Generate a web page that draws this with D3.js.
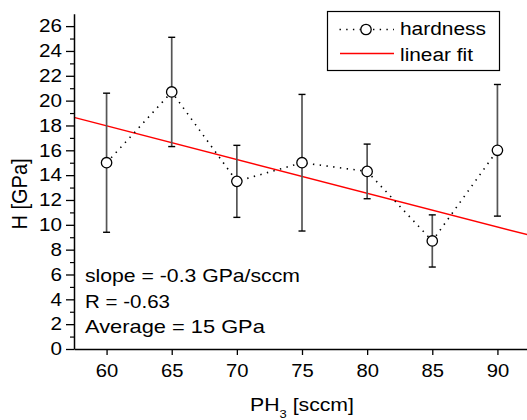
<!DOCTYPE html>
<html><head><meta charset="utf-8">
<script src="https://cdn.jsdelivr.net/npm/d3@7"></script>
<style>body{margin:0;background:#fff}svg{display:block;font-family:"Liberation Sans",Arial,sans-serif}</style>
</head><body>
<svg id="c" width="527" height="420"></svg>
<script>
const xValues = [60, 65, 70, 75, 80, 85, 90];
const hardness = [15.0, 20.7, 13.5, 15.0, 14.3, 8.7, 16.0];
const errLow = [9.4, 16.3, 10.6, 9.5, 12.1, 6.6, 10.7];
const errHigh = [20.6, 25.1, 16.4, 20.5, 16.5, 10.8, 21.3];
const fitX = [57.5, 92.5];
const fitY = [18.65, 9.15];
const xTicks = [60, 65, 70, 75, 80, 85, 90];
const yTicks = [0, 2, 4, 6, 8, 10, 12, 14, 16, 18, 20, 22, 24, 26];
const notes = ["slope = -0.3 GPa/sccm", "R = -0.63", "Average = 15 GPa"];
const legendLabels = ["hardness", "linear fit"];

const FS = 18;
const svg = d3.select("#c");
const x = d3.scaleLinear().domain([57.5, 92.5]).range([74, 530]);
const y = d3.scaleLinear().domain([0, 27]).range([349, 13.7]);

// horizontal stretch so text width matches the reference
function fitWidth(node, tx, ty, target, extra) {
  const w = node.getComputedTextLength();
  const s = target / w;
  d3.select(node).attr("transform", `translate(${tx},${ty}) scale(${s},1)` + (extra || ""));
  return s;
}
function addText(g, txt, size) {
  return g.append("text").attr("font-size", size || FS).attr("fill", "#000").text(txt);
}

// fit line
svg.append("line")
  .attr("x1", x(fitX[0])).attr("y1", y(fitY[0]))
  .attr("x2", x(fitX[1])).attr("y2", y(fitY[1]))
  .attr("stroke", "#ff0000").attr("stroke-width", 1.5);

// dotted connecting line
const pts = xValues.map((v, i) => [v, hardness[i]]);
svg.append("path")
  .attr("d", d3.line().x(d => x(d[0])).y(d => y(d[1]))(pts))
  .attr("fill", "none").attr("stroke", "#000").attr("stroke-width", 1.6)
  .attr("stroke-dasharray", "1.4,5.4");

// error bars
const eb = svg.append("g");
xValues.forEach((v, i) => {
  eb.append("line").attr("x1", x(v)).attr("x2", x(v)).attr("y1", y(errLow[i])).attr("y2", y(errHigh[i]))
    .attr("stroke", "#555").attr("stroke-width", 1.7);
  [errLow[i], errHigh[i]].forEach(e => {
    eb.append("line").attr("x1", x(v) - 3.5).attr("x2", x(v) + 3.5).attr("y1", y(e)).attr("y2", y(e))
      .attr("stroke", "#000").attr("stroke-width", 1.4);
  });
});

// markers
svg.append("g").selectAll("circle").data(pts).join("circle")
  .attr("cx", d => x(d[0])).attr("cy", d => y(d[1])).attr("r", 5.2)
  .attr("fill", "#fff").attr("stroke", "#000").attr("stroke-width", 1.3);

// x axis
const xAxis = d3.axisBottom(x).tickValues(xTicks).tickSize(6).tickSizeOuter(0);
const gx = svg.append("g").attr("transform", "translate(0,349)").call(xAxis);
gx.select(".domain").attr("stroke-width", 1.5);
gx.selectAll(".tick line").attr("stroke-width", 1.3);
gx.selectAll("text").attr("font-size", FS).attr("fill", "#000")
  .attr("font-family", "Liberation Sans, Arial, sans-serif")
  .attr("y", null).attr("dy", null)
  .each(function () { fitWidth(this, 0, 28, 22.5); });

// y axis
const minorY = d3.range(1, 27, 2);
svg.append("g").attr("transform", "translate(74,0)")
  .call(d3.axisLeft(y).tickValues(minorY).tickSize(4).tickFormat("").tickSizeOuter(0))
  .call(g => g.select(".domain").remove())
  .selectAll(".tick line").attr("stroke-width", 1.2);
const gy = svg.append("g").attr("transform", "translate(74,0)")
  .call(d3.axisLeft(y).tickValues(yTicks).tickSize(8).tickSizeOuter(0));
gy.select(".domain").attr("stroke-width", 1.5);
gy.selectAll(".tick line").attr("stroke-width", 1.3);
gy.selectAll("text").attr("font-size", FS).attr("fill", "#000")
  .attr("font-family", "Liberation Sans, Arial, sans-serif")
  .attr("x", null)
  .each(function () { const n = this.textContent.length; fitWidth(this, -12, 0, 11.5 * n); });

// axis titles
const yt = addText(svg, "H [GPa]", 20).attr("text-anchor", "middle")
  .attr("transform", "translate(26.5,194) scale(1.1,1) rotate(-90)");
const xt = svg.append("text").attr("text-anchor", "middle").attr("font-size", FS).attr("fill", "#000");
xt.append("tspan").text("PH");
xt.append("tspan").attr("font-size", 11).attr("dy", 7).text("3");
xt.append("tspan").attr("dy", -7).text(" [sccm]");
fitWidth(xt.node(), 302, 411, 104);

// notes
const noteWidths = [215, 85, 180];
notes.forEach((t, i) => fitWidth(addText(svg, t).node(), 85, 282 + i * 25.5, noteWidths[i]));

// legend
const lg = svg.append("g");
lg.append("rect").attr("x", 327.5).attr("y", 11.5).attr("width", 172).attr("height", 59)
  .attr("fill", "#fff").attr("stroke", "#000").attr("stroke-width", 1.2);
lg.append("line").attr("x1", 339.5).attr("x2", 394).attr("y1", 29.5).attr("y2", 29.5)
  .attr("stroke", "#000").attr("stroke-width", 1.6).attr("stroke-dasharray", "1.4,5.3");
lg.append("circle").attr("cx", 366).attr("cy", 29.5).attr("r", 5.2)
  .attr("fill", "#fff").attr("stroke", "#000").attr("stroke-width", 1.3);
lg.append("line").attr("x1", 340).attr("x2", 394).attr("y1", 53.5).attr("y2", 53.5)
  .attr("stroke", "#ff0000").attr("stroke-width", 1.5);
const legendWidths = [86, 73];
legendLabels.forEach((t, i) => fitWidth(addText(lg, t, 19).node(), 400, 35 + i * 26, legendWidths[i]));
</script>
</body></html>
